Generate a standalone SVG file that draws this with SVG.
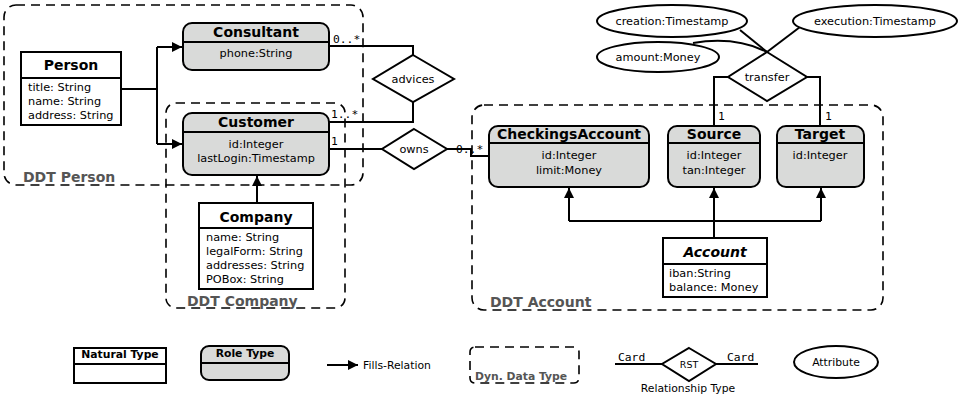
<svg xmlns="http://www.w3.org/2000/svg" width="961" height="398" viewBox="0 0 961 398">
<style>
.nat{fill:#fff;stroke:#000;stroke-width:2}
.role{fill:#d9dad9;stroke:#000;stroke-width:2}
.div{stroke:#000;stroke-width:2;fill:none}
.ddt{fill:none;stroke:#000;stroke-width:1.6;stroke-dasharray:9,6}
.con{fill:none;stroke:#000;stroke-width:2}
.rel{fill:#fff;stroke:#000;stroke-width:2}
.title{font-family:"DejaVu Sans",sans-serif;font-size:14px;font-weight:bold;fill:#000;text-anchor:middle}
.attr{font-family:"DejaVu Sans",sans-serif;font-size:11.3px;fill:#000}
.mid{text-anchor:middle}
.card{font-family:"DejaVu Sans Mono",monospace;font-size:11.3px;fill:#000}
.ddtl{font-family:"DejaVu Sans",sans-serif;font-size:14px;font-weight:bold;fill:#555}
.leg{font-family:"DejaVu Sans",sans-serif;font-size:10.8px;fill:#000}
.legb{font-family:"DejaVu Sans",sans-serif;font-size:10.8px;font-weight:bold;fill:#000;text-anchor:middle}
.legd{font-family:"DejaVu Sans",sans-serif;font-size:10.8px;font-weight:bold;fill:#555}
.rst{font-family:"DejaVu Sans",sans-serif;font-size:9.5px;fill:#000;text-anchor:middle}
</style>
<defs>
<marker id="fill" markerUnits="userSpaceOnUse" markerWidth="11" markerHeight="11" refX="10" refY="5" orient="auto">
<path d="M0,0 L10,5 L0,10 z" fill="#000"/>
</marker>
</defs>

<!-- Dynamic data types -->
<g id="ddt-person">
<rect class="ddt" x="4" y="5" width="359" height="180" rx="12"/>
<text class="ddtl" x="23" y="182">DDT Person</text>
</g>
<g id="ddt-company">
<rect class="ddt" x="166" y="103" width="179" height="205" rx="10"/>
<text class="ddtl" x="187" y="306">DDT Company</text>
</g>
<g id="ddt-account">
<rect class="ddt" x="472" y="105" width="411" height="205" rx="12"/>
<text class="ddtl" x="490" y="307">DDT Account</text>
</g>

<!-- Connectors -->
<g id="connectors">
<path class="con" d="M121,89 H157 M157,47 V144"/>
<path class="con" d="M157,47 H182" marker-end="url(#fill)"/>
<path class="con" d="M157,144 H182" marker-end="url(#fill)"/>
<path class="con" d="M257,203 V176" marker-end="url(#fill)"/>
<path class="con" d="M329,46 H413 V55"/>
<path class="con" d="M329,122 H413 V102"/>
<path class="con" d="M329,149 H382"/>
<path class="con" d="M447,149 H471 V156 H488"/>
<path class="con" d="M728,77 H714 V126"/>
<path class="con" d="M807,77 H820 V126"/>
<path class="con" d="M740,30 L767,52"/>
<path class="con" d="M800,27 L767,52"/>
<path class="con" d="M693,43 Q735,36 767,52"/>
<path class="con" d="M714,238 V221 M569,221 H821"/>
<path class="con" d="M569,221 V188" marker-end="url(#fill)"/>
<path class="con" d="M714,221 V188" marker-end="url(#fill)"/>
<path class="con" d="M821,221 V188" marker-end="url(#fill)"/>
<text class="card" x="333" y="43">0..*</text>
<text class="card" x="331" y="118">1..*</text>
<text class="card" x="331" y="145">1</text>
<text class="card" x="456" y="153">0..*</text>
<text class="card" x="718" y="120">1</text>
<text class="card" x="825" y="120">1</text>
</g>

<!-- Natural types -->
<g id="person">
<rect class="nat" x="21" y="52" width="100" height="73"/>
<path class="div" d="M21,78 H121"/>
<text class="title" x="71" y="70">Person</text>
<text class="attr" x="28" y="91">title: String</text>
<text class="attr" x="28" y="105">name: String</text>
<text class="attr" x="28" y="119">address: String</text>
</g>
<g id="company">
<rect class="nat" x="199" y="203" width="114" height="86"/>
<path class="div" d="M199,228 H313"/>
<text class="title" x="256" y="222">Company</text>
<text class="attr" x="206" y="241">name: String</text>
<text class="attr" x="206" y="255">legalForm: String</text>
<text class="attr" x="206" y="269">addresses: String</text>
<text class="attr" x="206" y="283">POBox: String</text>
</g>
<g id="account">
<rect class="nat" x="663" y="238" width="104" height="59"/>
<path class="div" d="M663,264 H767"/>
<text class="title" x="715" y="257" font-style="italic">Account</text>
<text class="attr" x="669" y="277">iban:String</text>
<text class="attr" x="669" y="291">balance: Money</text>
</g>

<!-- Role types -->
<g id="consultant">
<rect class="role" x="183" y="23" width="146" height="47" rx="9"/>
<path class="div" d="M183,42 H329"/>
<text class="title" x="256" y="37">Consultant</text>
<text class="attr mid" x="256" y="57">phone:String</text>
</g>
<g id="customer">
<rect class="role" x="183" y="113" width="146" height="62" rx="9"/>
<path class="div" d="M183,132 H329"/>
<text class="title" x="256" y="127">Customer</text>
<text class="attr mid" x="256" y="148">id:Integer</text>
<text class="attr mid" x="256" y="162">lastLogin:Timestamp</text>
</g>
<g id="checkingsaccount">
<rect class="role" x="489" y="126" width="160" height="61" rx="9"/>
<path class="div" d="M489,143 H649"/>
<text class="title" x="569" y="139">CheckingsAccount</text>
<text class="attr mid" x="569" y="159">id:Integer</text>
<text class="attr mid" x="569" y="174">limit:Money</text>
</g>
<g id="source">
<rect class="role" x="668" y="126" width="92" height="61" rx="9"/>
<path class="div" d="M668,143 H760"/>
<text class="title" x="714" y="139">Source</text>
<text class="attr mid" x="714" y="159">id:Integer</text>
<text class="attr mid" x="714" y="174">tan:Integer</text>
</g>
<g id="target">
<rect class="role" x="777" y="126" width="87" height="61" rx="9"/>
<path class="div" d="M777,143 H864"/>
<text class="title" x="820" y="139">Target</text>
<text class="attr mid" x="820" y="159">id:Integer</text>
</g>

<!-- Relationship types -->
<g id="advices">
<polygon class="rel" points="413,55 454,79 413,102 373,79"/>
<text class="attr mid" x="413" y="83">advices</text>
</g>
<g id="owns">
<polygon class="rel" points="414,129 447,149 414,169 382,149"/>
<text class="attr mid" x="414" y="153">owns</text>
</g>
<g id="transfer">
<polygon class="rel" points="767,52 807,77 767,101 728,77"/>
<text class="attr mid" x="767" y="81">transfer</text>
</g>

<!-- Attributes -->
<g id="creation">
<ellipse class="rel" cx="672" cy="21" rx="75" ry="16"/>
<text class="attr mid" x="672" y="25">creation:Timestamp</text>
</g>
<g id="execution">
<ellipse class="rel" cx="875" cy="21" rx="82" ry="16"/>
<text class="attr mid" x="875" y="25">execution:Timestamp</text>
</g>
<g id="amount">
<ellipse class="rel" cx="658" cy="57" rx="61" ry="15"/>
<text class="attr mid" x="658" y="61">amount:Money</text>
</g>

<!-- Legend -->
<g id="legend-natural">
<rect class="nat" x="74" y="348" width="92" height="35"/>
<path class="div" d="M74,364 H166"/>
<text class="legb" x="120" y="358">Natural Type</text>
</g>
<g id="legend-role">
<rect class="role" x="201" y="346" width="88" height="34" rx="8"/>
<path class="div" d="M201,363 H289"/>
<text class="legb" x="245" y="357">Role Type</text>
</g>
<g id="legend-fills">
<path class="con" d="M327,365 H358" marker-end="url(#fill)"/>
<text class="leg" x="363" y="369">Fills-Relation</text>
</g>
<g id="legend-ddt">
<rect class="ddt" x="470" y="347" width="109" height="36" rx="5"/>
<text class="legd" x="475" y="380">Dyn. Data Type</text>
</g>
<g id="legend-rst">
<path class="con" d="M615,364 H662 M716,364 H758"/>
<polygon class="rel" points="689,348 716,364 689,381 662,364"/>
<text class="card" x="618" y="361">Card</text>
<text class="card" x="727" y="361">Card</text>
<text class="rst" x="689" y="368">RST</text>
<text class="leg" x="688" y="392" text-anchor="middle">Relationship Type</text>
</g>
<g id="legend-attr">
<ellipse class="rel" cx="836" cy="362" rx="42" ry="16"/>
<text class="leg" x="836" y="366" text-anchor="middle">Attribute</text>
</g>
</svg>
